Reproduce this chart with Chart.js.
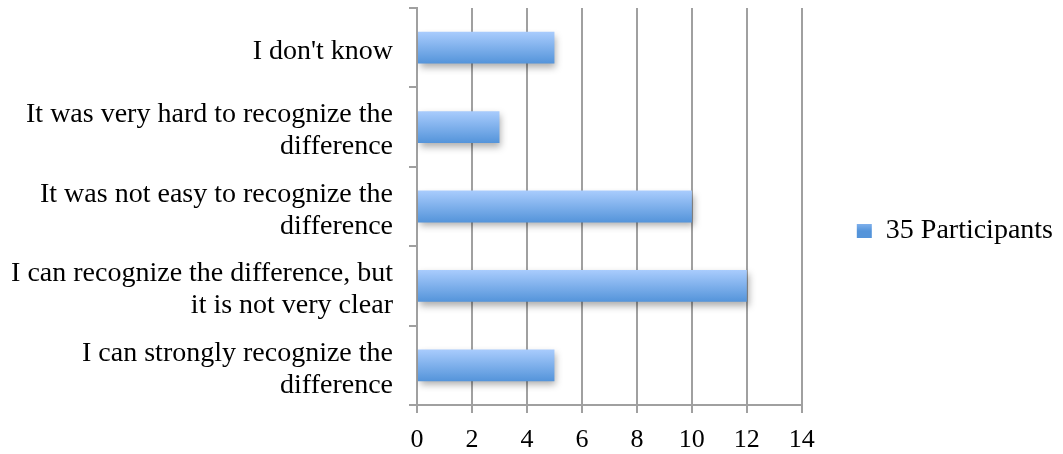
<!DOCTYPE html>
<html>
<head>
<meta charset="utf-8">
<script src="https://cdn.jsdelivr.net/npm/chart.js@4/dist/chart.umd.min.js"></script>
<style>
  body { margin: 0; background: #fff; }
  #wrap { width: 1063px; height: 454px; }
</style>
</head>
<body>
<div id="wrap"><canvas id="bar-chart"></canvas></div>
<script>
var CATEGORIES = [
  "I don't know",
  ["It was very hard to recognize the", "difference"],
  ["It was not easy to recognize the", "difference"],
  ["I can recognize the difference, but", "it is not very clear"],
  ["I can strongly recognize the", "difference"]
];
var SERIES_NAME = "35 Participants";
var PARTICIPANTS = [5, 3, 10, 12, 5];
var X_MIN = 0;
var X_MAX = 14;
var X_STEP = 2;

var FONT = "'Liberation Serif', serif";
var GRID = "#a0a0a0";

function blueGradient(ctx, top, bottom) {
  var g = ctx.createLinearGradient(0, top, 0, bottom);
  g.addColorStop(0, "#a9ccfd");
  g.addColorStop(1, "#5494da");
  return g;
}

// gradient fill + soft shadow for every bar, like the office chart
var barLook = {
  id: "barLook",
  beforeDatasetDraw: function(chart, args) {
    var ctx = chart.ctx;
    args.meta.data.forEach(function(bar) {
      var top = bar.y - bar.height / 2;
      bar.options = Object.assign({}, bar.options, { backgroundColor: blueGradient(ctx, top, top + bar.height) });
    });
    ctx.save();
    ctx.shadowColor = "rgba(0,0,0,0.32)";
    ctx.shadowBlur = 7;
    ctx.shadowOffsetX = 2;
    ctx.shadowOffsetY = 4;
  },
  afterDatasetDraw: function(chart) {
    chart.ctx.restore();
  }
};

new Chart(document.getElementById("bar-chart"), {
  type: "bar",
  data: {
    labels: CATEGORIES,
    datasets: [{
      label: SERIES_NAME,
      data: PARTICIPANTS,
      backgroundColor: "#7fb2ee",
      borderWidth: 0,
      categoryPercentage: 0.8,
      barPercentage: 0.5
    }]
  },
  options: {
    indexAxis: "y",
    responsive: true,
    maintainAspectRatio: false,
    animation: false,
    layout: { padding: { top: 8, left: 0, bottom: 0, right: 0 } },
    scales: {
      x: {
        min: X_MIN,
        max: X_MAX,
        afterFit: function(scale) {
          scale.height = 49;
        },
        ticks: { stepSize: X_STEP, color: "#000", padding: 12, font: { family: FONT, size: 26, lineHeight: 1.2 } },
        grid: { color: GRID, lineWidth: 2, tickLength: 8, drawTicks: true },
        border: { color: GRID, width: 2 }
      },
      y: {
        afterFit: function(scale) {
          scale.width = 417;
          scale.paddingTop = 0;
          scale.paddingBottom = 0;
        },
        ticks: { color: "#000", padding: 16, labelOffset: 4, font: { family: FONT, size: 28, lineHeight: 1.14 } },
        grid: { drawOnChartArea: false, color: GRID, lineWidth: 2, tickLength: 8 },
        border: { color: GRID, width: 2 }
      }
    },
    plugins: {
      legend: {
        position: "right",
        labels: {
          boxWidth: 15,
          boxHeight: 14,
          padding: 55,
          color: "#000",
          font: { family: FONT, size: 28 },
          generateLabels: function(chart) {
            return [{
              text: SERIES_NAME,
              fillStyle: blueGradient(chart.ctx, 217, 231),
              strokeStyle: "rgba(0,0,0,0)",
              lineWidth: 0,
              datasetIndex: 0
            }];
          }
        }
      },
      tooltip: { enabled: false }
    }
  },
  plugins: [barLook]
});
</script>
</body>
</html>
